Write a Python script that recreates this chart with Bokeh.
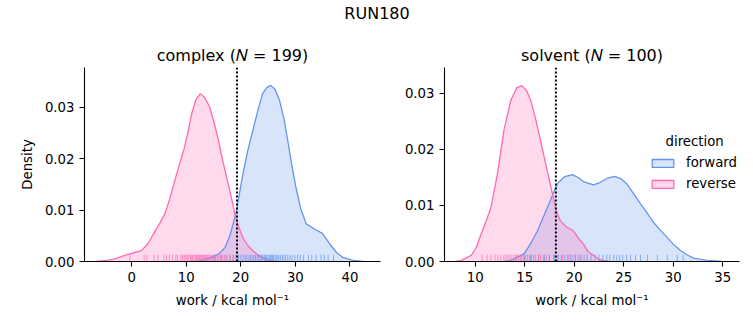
from bokeh.plotting import figure
from bokeh.layouts import column, row
from bokeh.models import (Span, Legend, LegendItem, Label, FixedTicker,
                          PrintfTickFormatter, Range1d, ColumnDataSource)
from bokeh.embed import file_html
from bokeh.resources import INLINE
from bokeh.core.properties import value

FWD = "#6495ED"
REV = "#FF69B4"
FONT = "DejaVu Sans"

suptitle = "RUN180"
titles = ["complex (𝑁 = 199)", "solvent (𝑁 = 100)"]
xlabel = "work / kcal mol⁻¹"
ylabel = "Density"
legend_title = "direction"
legend_labels = ["forward", "reverse"]

# complex panel: KDE curves
cx_fwd_x = [12.0, 14.6, 16.0, 17.1, 18.0, 19.1, 20.3, 21.2, 22.2, 23.1, 24.0, 24.8, 25.5, 26.3,
            27.1, 27.9, 28.6, 29.3, 30.1, 31.0, 32.0, 33.5, 35.0, 36.3, 37.5, 38.7, 40.6, 42.5]
cx_fwd_d = [0.0, 0.0008, 0.0015, 0.0027, 0.0050, 0.0093, 0.0165, 0.0212, 0.0254, 0.0292, 0.0326,
            0.0338, 0.0342, 0.0334, 0.0313, 0.0278, 0.0235, 0.0190, 0.0144, 0.0102, 0.0073,
            0.0063, 0.0054, 0.0034, 0.0018, 0.0008, 0.0002, 0.0]
cx_rev_x = [-6.5, -4.5, -3.1, -1.5, -0.7, 0.5, 1.8, 3.0, 4.2, 5.2, 6.1, 7.0, 7.9, 8.8, 9.7, 10.4,
            11.0, 11.8, 12.6, 13.4, 14.3, 15.1, 15.9, 16.6, 17.4, 18.2, 18.9, 19.6, 20.3, 21.2,
            22.2, 23.1, 24.0, 25.0, 26.5]
cx_rev_d = [0.0, 0.0002, 0.0005, 0.0011, 0.0014, 0.0017, 0.0021, 0.0035, 0.0057, 0.0075, 0.0093,
            0.0122, 0.0157, 0.0190, 0.0222, 0.0255, 0.0287, 0.0315, 0.0326, 0.0318, 0.0300,
            0.0270, 0.0235, 0.0200, 0.0164, 0.0128, 0.0092, 0.0068, 0.0048, 0.0032, 0.0021,
            0.0013, 0.0008, 0.0003, 0.0]
cx_fwd_rug = [15.2, 16.4, 17.3, 18.0, 18.6, 19.1, 19.6, 20.0, 20.4, 20.8, 21.1, 21.5, 21.8, 22.1,
              22.4, 22.7, 23.0, 23.3, 23.5, 23.8, 24.0, 24.3, 24.5, 24.7, 25.0, 25.2, 25.4, 25.6,
              25.8, 26.0, 26.3, 26.5, 26.8, 27.0, 27.3, 27.6, 27.9, 28.2, 28.6, 29.0, 29.4, 29.9,
              30.4, 30.9, 31.5, 32.4, 33.0, 33.8, 34.7, 35.3, 36.0, 37.0]
cx_rev_rug = [-0.3, 2.3, 2.8, 4.1, 4.8, 5.9, 6.4, 6.9, 7.5, 8.1, 8.4, 9.0, 9.3, 9.6, 9.8, 10.1,
              10.3, 10.5, 10.8, 11.0, 11.1, 11.3, 11.6, 11.8, 11.9, 12.1, 12.3, 12.4, 12.6, 12.8,
              12.9, 13.1, 13.3, 13.5, 13.6, 13.8, 14.0, 14.2, 14.4, 14.7, 14.9, 15.1, 15.4, 15.7,
              16.0, 16.3, 16.7, 17.0, 17.5, 18.1, 18.6, 19.4]
cx_line = 19.3

# solvent panel
sv_fwd_x = [13.0, 13.6, 14.95, 15.6, 16.3, 17.3, 18.3, 19.0, 19.8, 20.4, 21.0, 21.95, 22.6, 23.4,
            24.1, 24.7, 25.3, 26.0, 26.7, 27.4, 28.0, 28.7, 29.4, 30.0, 30.7, 31.4, 32.05, 33.4,
            35.0]
sv_fwd_d = [0.0, 0.0002, 0.0014, 0.0032, 0.0055, 0.0097, 0.0139, 0.0151, 0.0155, 0.0150, 0.0142,
            0.0137, 0.0141, 0.0149, 0.0152, 0.0148, 0.0139, 0.0121, 0.0103, 0.0086, 0.0070,
            0.0056, 0.0043, 0.0031, 0.0020, 0.0012, 0.0006, 0.0002, 0.0]
sv_rev_x = [8.0, 8.6, 9.6, 10.1, 10.6, 11.1, 11.6, 12.25, 12.9, 13.6, 14.2, 14.7, 15.2, 15.6,
            16.1, 16.6, 17.05, 17.5, 17.9, 18.3, 18.6, 19.2, 19.9, 20.4, 20.9, 21.4, 21.95, 22.5,
            23.5]
sv_rev_d = [0.0, 0.0002, 0.0011, 0.0025, 0.0049, 0.0072, 0.0097, 0.0157, 0.0234, 0.0288, 0.0310,
            0.0314, 0.0305, 0.0288, 0.0255, 0.0216, 0.0180, 0.0145, 0.0113, 0.0085, 0.0073,
            0.0062, 0.0055, 0.0042, 0.0032, 0.0018, 0.0011, 0.0004, 0.0]
sv_fwd_rug = [15.0, 15.6, 16.4, 17.0, 17.5, 18.0, 18.4, 18.7, 19.0, 19.3, 19.6, 19.8, 20.1, 20.4,
              20.7, 21.0, 21.3, 21.7, 22.1, 22.5, 22.9, 23.3, 23.6, 24.0, 24.3, 24.6, 24.9, 25.3,
              25.7, 26.2, 26.7, 27.4, 28.4, 29.4, 30.4, 31.0]
sv_rev_rug = [10.7, 11.2, 11.6, 12.0, 12.3, 12.6, 12.9, 13.1, 13.3, 13.5, 13.7, 13.9, 14.1, 14.2,
              14.4, 14.6, 14.7, 14.9, 15.1, 15.3, 15.5, 15.7, 15.9, 16.1, 16.4, 16.6, 16.9, 17.2,
              17.5, 17.9, 18.3, 18.8, 19.4, 20.1, 20.6]
sv_line = 18.15

cx_xticks = [0, 10, 20, 30, 40]
sv_xticks = [10, 15, 20, 25, 30, 35]
yticks = [0.0, 0.01, 0.02, 0.03]


def panel(title, xr, yr, xticks, fx, fd, rx, rd, frug, rrug, vline, width, bl, br, ylab):
    p = figure(width=width, height=295, x_range=Range1d(*xr), y_range=Range1d(*yr),
               output_backend="svg", toolbar_location=None,
               min_border_left=bl, min_border_right=br, min_border_top=37, min_border_bottom=64)
    p.title.text = title
    p.title.align = "center"
    p.title.text_font = FONT
    p.title.text_font_size = "16px"
    p.title.text_font_style = "normal"
    p.title.text_color = "black"
    p.title.standoff = 6
    p.outline_line_color = None
    p.xgrid.visible = False
    p.ygrid.visible = False
    p.background_fill_color = None

    p.varea(x=fx, y1=[0] * len(fx), y2=fd, fill_color=FWD, fill_alpha=0.25)
    p.varea(x=rx, y1=[0] * len(rx), y2=rd, fill_color=REV, fill_alpha=0.25)
    p.line(fx, fd, line_color=FWD, line_width=1.3)
    p.line(rx, rd, line_color=REV, line_width=1.3)
    h = (yr[1] - yr[0]) * 0.035
    p.segment(x0=frug, y0=[0] * len(frug), x1=frug, y1=[h] * len(frug),
              line_color=FWD, line_alpha=0.7, line_width=1)
    p.segment(x0=rrug, y0=[0] * len(rrug), x1=rrug, y1=[h] * len(rrug),
              line_color=REV, line_alpha=0.7, line_width=1)
    p.add_layout(Span(location=vline, dimension="height", line_color="black",
                      line_dash="2 2", line_width=2))

    p.xaxis.ticker = FixedTicker(ticks=xticks)
    p.yaxis.ticker = FixedTicker(ticks=yticks)
    p.yaxis.formatter = PrintfTickFormatter(format="%.2f")
    for ax in (p.xaxis[0], p.yaxis[0]):
        ax.major_label_text_font = FONT
        ax.major_label_text_font_size = "13.3px"
        ax.major_label_text_color = "black"
        ax.axis_label_text_font = FONT
        ax.axis_label_text_font_size = "13.3px"
        ax.axis_label_text_font_style = "normal"
        ax.axis_label_text_color = "black"
        ax.axis_line_color = "black"
        ax.axis_line_width = 1.1
        ax.major_tick_line_color = "black"
        ax.major_tick_line_width = 1.1
        ax.major_tick_in = 0
        ax.major_tick_out = 5
        ax.minor_tick_line_color = None
        ax.major_label_standoff = 5
        ax.axis_label_standoff = 8
    p.xaxis.axis_label = xlabel
    if ylab:
        p.yaxis.axis_label = ylab
        p.yaxis.axis_label_standoff = 7
    return p


p1 = panel(titles[0], (-8.64, 45.6), (0, 0.03767), cx_xticks, cx_fwd_x, cx_fwd_d, cx_rev_x,
           cx_rev_d, cx_fwd_rug, cx_rev_rug, cx_line, 400, 84, 20, ylabel)
p2 = panel(titles[1], (6.9, 36.7), (0, 0.03464), sv_xticks, sv_fwd_x, sv_fwd_d, sv_rev_x,
           sv_rev_d, sv_fwd_rug, sv_rev_rug, sv_line, 353, 44, 14, None)

# legend handles: off-screen placeholder patches styled like the fills
handle_src = ColumnDataSource(dict(left=[1000], right=[1001], top=[1.0], bottom=[0.9]))
rf = p2.quad(left="left", right="right", top="top", bottom="bottom", source=handle_src,
             fill_color=FWD, fill_alpha=0.25, line_color=FWD, line_width=1.3)
rr = p2.quad(left="left", right="right", top="top", bottom="bottom", source=handle_src,
             fill_color=REV, fill_alpha=0.25, line_color=REV, line_width=1.3)
legend = Legend(items=[LegendItem(label=legend_labels[0], renderers=[rf]),
                       LegendItem(label=legend_labels[1], renderers=[rr])],
                location=(205, 70), border_line_color=None, background_fill_alpha=0,
                padding=0, margin=0, spacing=6, glyph_width=27, glyph_height=10,
                label_standoff=10, label_text_font=FONT, label_text_font_size="13.3px",
                label_text_color="black", label_height=10)
p2.add_layout(legend)
p2.add_layout(Label(x=32.17, y=0.0214, text=legend_title, text_align="center",
                    text_baseline="middle", text_font=FONT, text_font_size="13.3px",
                    text_color="black"))

header = figure(width=753, height=30, x_range=Range1d(0, 753), y_range=Range1d(0, 30),
                output_backend="svg", toolbar_location=None, min_border=0)
header.axis.visible = False
header.grid.visible = False
header.outline_line_color = None
header.text(x=[376.5], y=[17], text=[suptitle], text_align="center", text_baseline="middle",
            text_font=value(FONT), text_font_size="16px", text_color="black")

layout = column(header, row(p1, p2))
open("out.html", "w").write(file_html(layout, INLINE))
